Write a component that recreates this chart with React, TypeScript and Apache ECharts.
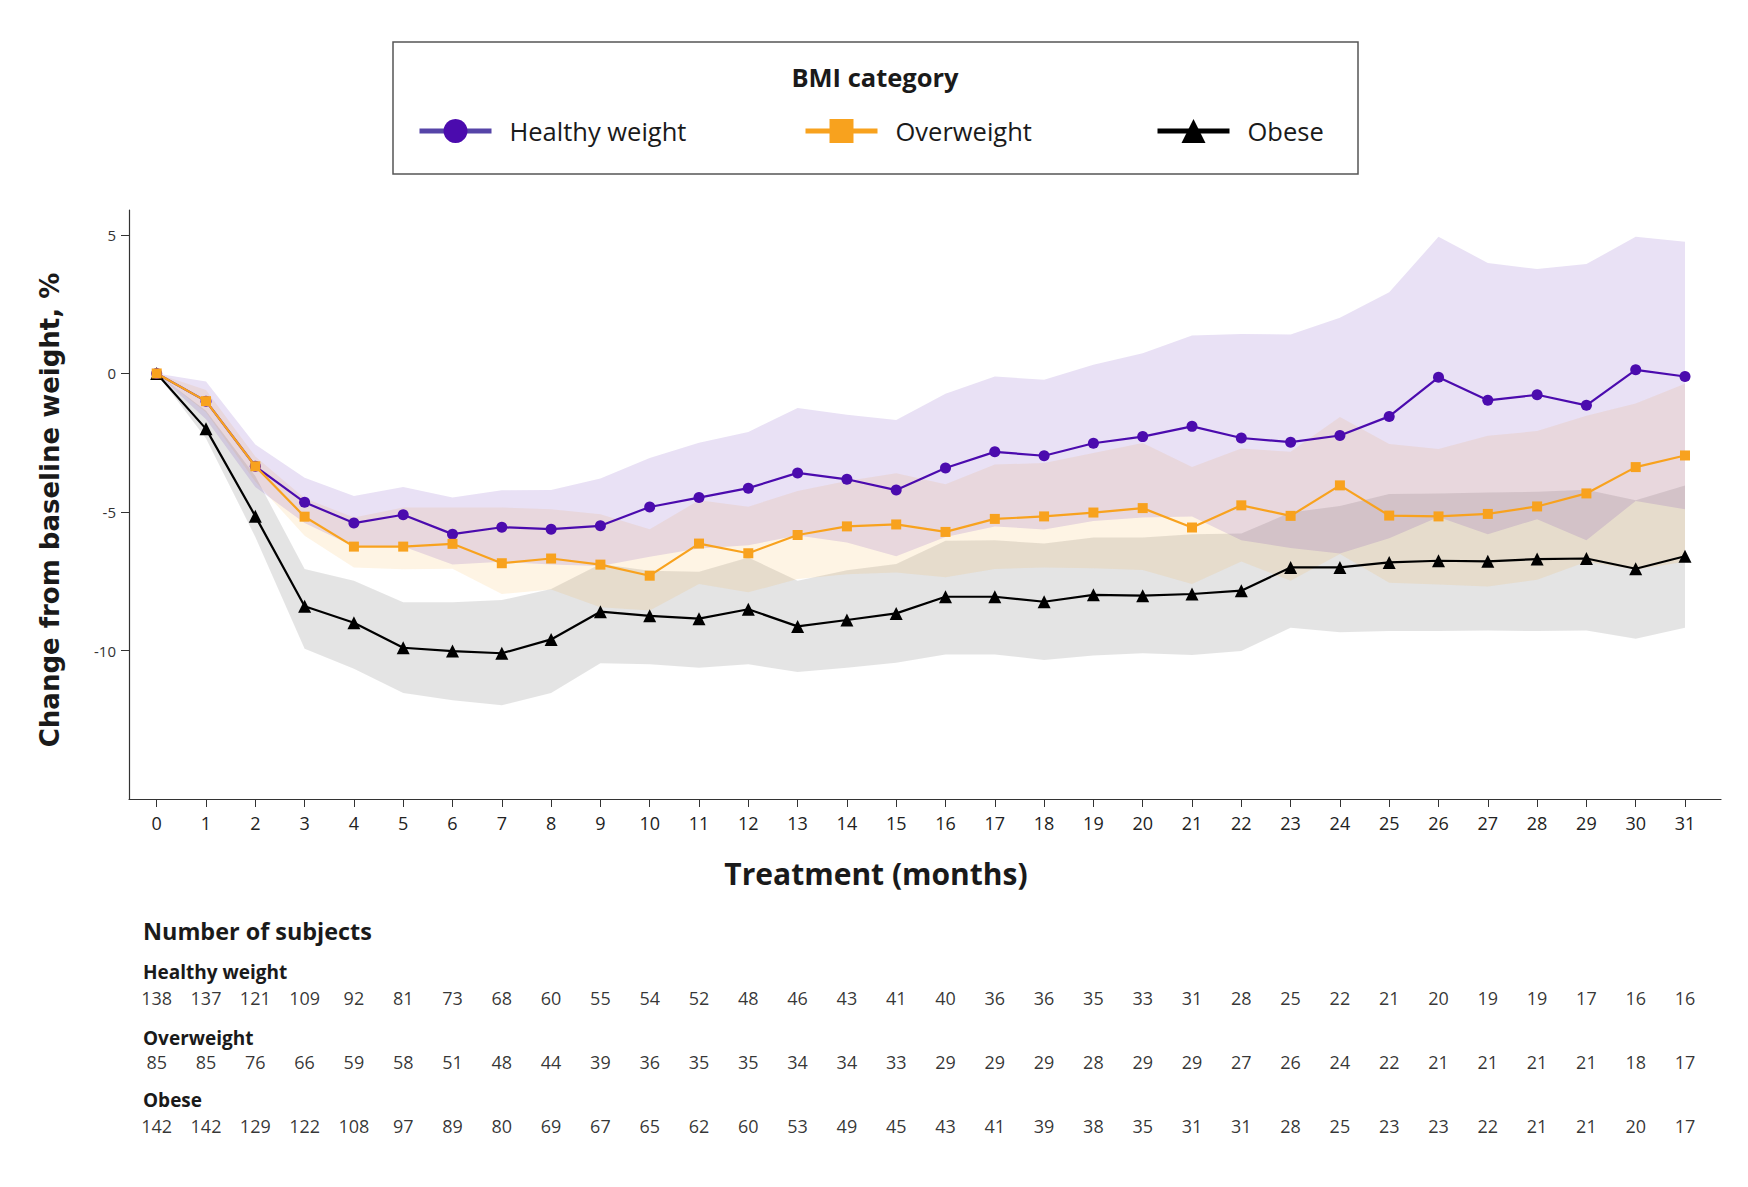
import React, { useEffect, useRef } from "react";
import * as echarts from "echarts";

// ---------------- data ----------------
const months = [0, 1, 2, 3, 4, 5, 6, 7, 8, 9, 10, 11, 12, 13, 14, 15, 16, 17, 18, 19, 20, 21, 22, 23, 24, 25, 26, 27, 28, 29, 30, 31];
const yTickValues = [-10, -5, 0, 5];

const healthy = [0, -1.0, -3.35, -4.65, -5.4, -5.1, -5.8, -5.55, -5.62, -5.5, -4.82, -4.48, -4.14, -3.59, -3.82, -4.21, -3.41, -2.83, -2.97, -2.52, -2.28, -1.91, -2.33, -2.48, -2.24, -1.55, -0.14, -0.97, -0.77, -1.15, 0.13, -0.11];
const healthyUpper = [0, -0.29, -2.56, -3.76, -4.42, -4.1, -4.48, -4.22, -4.21, -3.79, -3.05, -2.5, -2.11, -1.25, -1.49, -1.68, -0.73, -0.11, -0.23, 0.31, 0.73, 1.37, 1.42, 1.41, 2.01, 2.93, 4.93, 3.99, 3.77, 3.95, 4.93, 4.75];
const healthyLower = [0, -1.65, -4.1, -5.4, -6.25, -6.25, -6.9, -6.8, -6.9, -6.95, -6.62, -6.32, -6.2, -5.85, -6.1, -6.6, -5.9, -5.52, -5.63, -5.33, -5.2, -5.16, -6.02, -6.3, -6.5, -5.95, -5.18, -5.8, -5.26, -6.02, -4.6, -4.9];

const overweight = [0, -1.0, -3.35, -5.17, -6.25, -6.25, -6.15, -6.85, -6.68, -6.9, -7.3, -6.14, -6.49, -5.83, -5.52, -5.45, -5.72, -5.25, -5.16, -5.02, -4.86, -5.56, -4.76, -5.14, -4.04, -5.13, -5.16, -5.07, -4.8, -4.33, -3.38, -2.96];
const overweightUpper = [0, -0.6, -3.0, -4.5, -5.2, -4.84, -4.84, -4.84, -4.9, -5.08, -5.62, -4.58, -4.81, -4.24, -3.88, -3.6, -4.0, -3.29, -3.23, -2.87, -2.51, -3.38, -2.71, -2.83, -1.57, -2.55, -2.73, -2.25, -2.08, -1.53, -1.08, -0.37];
const overweightLower = [0, -1.4, -3.9, -5.86, -7.0, -7.07, -7.05, -7.96, -7.8, -8.44, -8.56, -7.6, -7.9, -7.42, -7.25, -7.18, -7.36, -7.06, -7.0, -7.03, -7.09, -7.6, -6.79, -7.48, -6.52, -7.55, -7.62, -7.69, -7.45, -6.8, -7.08, -6.8];

const obese = [0, -2.0, -5.15, -8.4, -9.0, -9.9, -10.02, -10.1, -9.6, -8.6, -8.75, -8.85, -8.51, -9.13, -8.9, -8.66, -8.06, -8.06, -8.24, -7.99, -8.02, -7.96, -7.84, -7.0, -7.0, -6.82, -6.76, -6.78, -6.7, -6.68, -7.05, -6.6];
const obeseUpper = [0, -1.35, -3.7, -7.06, -7.48, -8.26, -8.26, -8.18, -7.78, -6.88, -7.12, -7.16, -6.64, -7.48, -7.1, -6.88, -6.04, -6.02, -6.14, -5.92, -5.92, -5.8, -5.78, -5.02, -4.78, -4.35, -4.33, -4.3, -4.27, -4.2, -4.58, -4.04];
const obeseLower = [0, -2.35, -5.9, -9.94, -10.66, -11.53, -11.8, -11.98, -11.53, -10.46, -10.5, -10.62, -10.5, -10.78, -10.62, -10.44, -10.14, -10.14, -10.34, -10.18, -10.1, -10.16, -10.02, -9.18, -9.34, -9.3, -9.3, -9.28, -9.3, -9.28, -9.58, -9.18];

const healthyN = [138, 137, 121, 109, 92, 81, 73, 68, 60, 55, 54, 52, 48, 46, 43, 41, 40, 36, 36, 35, 33, 31, 28, 25, 22, 21, 20, 19, 19, 17, 16, 16];
const overweightN = [85, 85, 76, 66, 59, 58, 51, 48, 44, 39, 36, 35, 35, 34, 34, 33, 29, 29, 29, 28, 29, 29, 27, 26, 24, 22, 21, 21, 21, 21, 18, 17];
const obeseN = [142, 142, 129, 122, 108, 97, 89, 80, 69, 67, 65, 62, 60, 53, 49, 45, 43, 41, 39, 38, 35, 31, 31, 28, 25, 23, 23, 22, 21, 21, 20, 17];

const groupNames = ["Healthy weight", "Overweight", "Obese"];

// ---------------- styles ----------------
const FONT = "'Open Sans', 'Noto Sans', sans-serif";
const PURPLE = "#4B0BAE";
const ORANGE = "#F8A21E";
const BLACK = "#000000";
const X_MIN = -0.562;
const X_MAX = 31.73;
const Y_MIN = -15.36;
const Y_MAX = 5.9;

function pairs(vals: number[]) {
  return months.map((m, i) => [m, vals[i]]);
}

function bandSeries(lo: number[], hi: number[], color: string) {
  return {
    type: "custom",
    xAxisIndex: 0,
    yAxisIndex: 0,
    data: months.map((m, i) => [m, lo[i], hi[i]]),
    encode: { x: 0, y: [1, 2] },
    silent: true,
    z: 1,
    clip: true,
    renderItem: (params: any, api: any) => {
      if (params.dataIndex !== 0) return null;
      const top = months.map((m, i) => api.coord([m, hi[i]]));
      const bottom = months.map((m, i) => api.coord([m, lo[i]])).reverse();
      return {
        type: "polygon",
        shape: { points: top.concat(bottom) },
        style: { fill: color, stroke: "none" },
        silent: true,
      };
    },
  };
}

function lineSeries(name: string, vals: number[], color: string, symbol: string, size: number) {
  return {
    type: "line",
    name,
    xAxisIndex: 0,
    yAxisIndex: 0,
    data: pairs(vals),
    symbol,
    symbolSize: size,
    showAllSymbol: true,
    lineStyle: { color, width: 2.2 },
    itemStyle: { color, borderWidth: 0 },
    z: 3,
    emphasis: { disabled: true },
  };
}

function countSeries(vals: number[], row: number) {
  return {
    type: "scatter",
    xAxisIndex: 1,
    yAxisIndex: 1,
    data: months.map((m, i) => [m, row + 0.5, vals[i]]),
    symbolSize: 1,
    itemStyle: { color: "rgba(0,0,0,0)" },
    silent: true,
    emphasis: { disabled: true },
    label: {
      show: true,
      position: "inside",
      formatter: (p: any) => String(p.value[2]),
      fontFamily: FONT,
      fontSize: 18,
      color: "#000",
    },
  };
}

function txt(text: string, x: number, y: number, size: number, weight: string, align = "left", extra: any = {}) {
  return {
    type: "text",
    x,
    y,
    silent: true,
    ...extra,
    style: {
      text,
      fontFamily: extra.fontFamily || FONT,
      fontSize: size,
      fontWeight: weight,
      fill: "#1a1a1a",
      align,
      verticalAlign: "middle",
      textAlign: align,
      textVerticalAlign: "middle",
    },
  };
}

function legendAt(name: string, left: number, lineColor?: string) {
  return {
    data: [lineColor ? { name, lineStyle: { color: lineColor } } : { name }],
    left,
    top: 118,
    padding: 0,
    itemWidth: 72,
    itemHeight: 30,
    selectedMode: false,
    lineStyle: { width: 5 },
    textStyle: { fontFamily: FONT, fontSize: 25.5, color: "#1a1a1a", padding: [0, 0, 0, 13] },
  };
}

export default function App() {
  const ref = useRef<HTMLDivElement>(null);

  useEffect(() => {
    if (!ref.current) return;
    const chart = echarts.init(ref.current, null, { renderer: "svg" });

    const option: any = {
      animation: false,
      backgroundColor: "#ffffff",
      textStyle: { fontFamily: FONT },
      grid: [
        { left: 129, right: 27, top: 210, bottom: 388 },
        { left: 129, right: 27, top: 966, height: 192 },
      ],
      xAxis: [
        {
          type: "value",
          gridIndex: 0,
          min: X_MIN,
          max: X_MAX,
          axisLine: { show: true, onZero: false, lineStyle: { color: "#333", width: 1.2 } },
          axisTick: { show: true, customValues: months, length: 8, lineStyle: { color: "#333", width: 1 } },
          axisLabel: { customValues: months, fontFamily: FONT, fontSize: 18, color: "#222", margin: 15 },
          splitLine: { show: false },
        },
        { type: "value", gridIndex: 1, min: X_MIN, max: X_MAX, show: false },
      ],
      yAxis: [
        {
          type: "value",
          gridIndex: 0,
          min: Y_MIN,
          max: Y_MAX,
          axisLine: { show: true, onZero: false, lineStyle: { color: "#333", width: 1.2 } },
          axisTick: { show: true, customValues: yTickValues, length: 8, lineStyle: { color: "#333", width: 1 } },
          axisLabel: { customValues: yTickValues, fontFamily: FONT, fontSize: 15, color: "#333", margin: 13 },
          splitLine: { show: false },
        },
        { type: "value", gridIndex: 1, min: 0, max: 3, inverse: true, show: false },
      ],
      legend: [
        legendAt(groupNames[0], 417, "#5644A8"),
        legendAt(groupNames[1], 803),
        legendAt(groupNames[2], 1155),
      ],
      graphic: [
        {
          type: "rect",
          shape: { x: 393, y: 42, width: 965, height: 132 },
          style: { fill: "none", stroke: "#555", lineWidth: 1.5 },
          silent: true,
        },
        txt("BMI category", 875, 77, 25.5, "bold", "center"),
        txt("Change from baseline weight, %", 50, 510, 26, "bold", "center", {
          rotation: Math.PI / 2,
          fontFamily: "'DejaVu Sans', Verdana, sans-serif",
        }),
        txt("Treatment (months)", 876, 873, 30, "bold", "center"),
        txt("Number of subjects", 143, 931, 23.4, "bold"),
        txt(groupNames[0], 143, 972, 19, "bold"),
        txt(groupNames[1], 143, 1038, 19, "bold"),
        txt(groupNames[2], 143, 1100, 19, "bold"),
      ],
      series: [
        bandSeries(obeseLower, obeseUpper, "rgba(0,0,0,0.105)"),
        bandSeries(overweightLower, overweightUpper, "rgba(248,162,30,0.12)"),
        bandSeries(healthyLower, healthyUpper, "rgba(75,11,174,0.12)"),
        lineSeries(groupNames[2], obese, BLACK, "triangle", 13),
        lineSeries(groupNames[0], healthy, PURPLE, "circle", 11),
        lineSeries(groupNames[1], overweight, ORANGE, "rect", 10),
        countSeries(healthyN, 0),
        countSeries(overweightN, 1),
        countSeries(obeseN, 2),
      ],
    };

    chart.setOption(option);
    return () => chart.dispose();
  }, []);

  return (
    <div
      ref={ref}
      style={{ position: "absolute", left: 0, top: 0, width: 1748, height: 1187, background: "#fff" }}
    />
  );
}
